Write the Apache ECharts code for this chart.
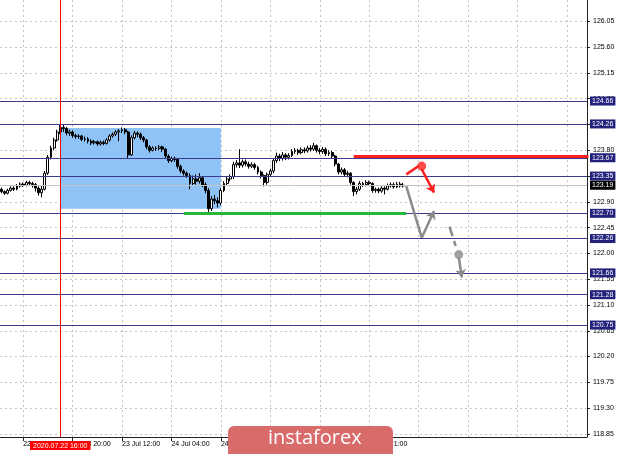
<!DOCTYPE html>
<html><head><meta charset="utf-8">
<script src="https://cdn.jsdelivr.net/npm/echarts@6/dist/echarts.min.js"></script>
<style>html,body{margin:0;padding:0;background:#fff}#c{width:620px;height:454px}</style>
</head><body><div id="c"></div>
<script>
// H1 candles [open, close, low, high], 21 Jul 21:00 onward
const ohlc = [
[123.12,123.08,123.05,123.15],[123.08,123.05,123.02,123.10],[123.05,123.10,123.03,123.13],[123.10,123.14,123.08,123.17],
[123.14,123.12,123.09,123.17],[123.12,123.18,123.10,123.21],[123.18,123.21,123.15,123.24],[123.21,123.19,123.16,123.24],
[123.19,123.24,123.17,123.27],[123.24,123.22,123.19,123.27],[123.22,123.20,123.15,123.25],[123.20,123.14,123.08,123.23],
[123.14,123.06,123.01,123.17],[123.06,123.12,122.98,123.18],[123.12,123.40,123.10,123.44],[123.40,123.68,123.37,123.72],
[123.68,123.84,123.64,123.88],[123.84,123.98,123.80,124.02],[123.98,124.12,123.95,124.16],[124.12,124.20,124.08,124.24],
[124.20,124.18,124.12,124.25],[124.18,124.10,124.06,124.21],[124.10,124.12,124.05,124.16],[124.12,124.06,124.02,124.15],
[124.06,124.04,124.00,124.09],[124.04,124.05,124.00,124.08],[124.05,123.99,123.96,124.07],[123.99,124.00,123.95,124.04],
[124.00,123.96,123.92,124.03],[123.96,123.93,123.89,123.99],[123.93,123.95,123.90,123.98],[123.95,123.91,123.88,123.97],
[123.91,123.94,123.88,123.97],[123.94,123.92,123.89,123.97],[123.92,123.98,123.90,124.01],[123.98,124.05,123.95,124.08],
[124.05,124.08,124.02,124.11],[124.08,124.12,124.05,124.15],[124.12,124.14,123.96,124.17],[124.14,124.16,124.10,124.20],
[124.16,124.12,124.08,124.19],[124.12,123.72,123.66,124.14],[123.72,124.02,123.70,124.06],[124.02,124.10,123.99,124.14],
[124.10,124.08,124.03,124.13],[124.08,124.02,123.98,124.11],[124.02,123.98,123.94,124.05],[123.98,123.86,123.82,124.00],
[123.86,123.80,123.76,123.89],[123.80,123.84,123.78,123.87],[123.84,123.83,123.79,123.87],[123.83,123.86,123.80,123.89],
[123.86,123.82,123.77,123.88],[123.82,123.70,123.66,123.84],[123.70,123.62,123.58,123.73],[123.62,123.66,123.59,123.69],
[123.66,123.64,123.60,123.69],[123.64,123.52,123.48,123.66],[123.52,123.44,123.40,123.55],[123.44,123.40,123.36,123.47],
[123.40,123.36,123.32,123.43],[123.36,123.22,123.12,123.40],[123.22,123.30,123.18,123.36],[123.30,123.26,123.20,123.38],
[123.26,123.32,123.22,123.40],[123.32,123.20,123.16,123.35],[123.20,123.10,123.05,123.24],[123.10,122.78,122.72,123.14],
[122.78,122.95,122.74,123.00],[122.95,122.92,122.86,123.02],[122.92,122.88,122.80,122.98],[122.88,123.10,122.84,123.14],
[123.10,123.22,123.07,123.26],[123.22,123.30,123.19,123.34],[123.30,123.34,123.26,123.38],[123.34,123.55,123.30,123.60],
[123.55,123.58,123.50,123.63],[123.58,123.54,123.49,123.82],[123.54,123.60,123.50,123.64],[123.60,123.56,123.52,123.64],
[123.56,123.52,123.48,123.60],[123.52,123.55,123.49,123.59],[123.55,123.50,123.46,123.58],[123.50,123.42,123.38,123.53],
[123.42,123.36,123.31,123.45],[123.36,123.24,123.17,123.38],[123.24,123.38,123.20,123.41],[123.38,123.44,123.34,123.48],
[123.44,123.62,123.40,123.66],[123.62,123.70,123.58,123.76],[123.70,123.66,123.61,123.74],[123.66,123.72,123.62,123.77],
[123.72,123.68,123.63,123.75],[123.68,123.71,123.64,123.75],[123.71,123.78,123.68,123.82],[123.78,123.80,123.74,123.84],
[123.80,123.76,123.72,123.83],[123.76,123.81,123.73,123.85],[123.81,123.79,123.75,123.85],[123.79,123.84,123.76,123.88],
[123.84,123.82,123.78,123.89],[123.82,123.88,123.79,123.93],[123.88,123.80,123.76,123.90],[123.80,123.78,123.73,123.84],
[123.78,123.82,123.74,123.86],[123.82,123.74,123.70,123.85],[123.74,123.76,123.70,123.80],[123.76,123.70,123.66,123.79],
[123.70,123.56,123.52,123.72],[123.56,123.42,123.38,123.58],[123.42,123.46,123.38,123.50],[123.46,123.38,123.34,123.49],
[123.38,123.40,123.33,123.44],[123.40,123.24,123.20,123.42],[123.24,123.08,123.00,123.26],[123.08,123.12,123.03,123.16],
[123.12,123.22,123.09,123.26],[123.22,123.20,123.16,123.25],[123.20,123.24,123.17,123.28],[123.24,123.22,123.18,123.27],
[123.22,123.10,123.06,123.24],[123.10,123.12,123.06,123.15],[123.12,123.09,123.05,123.15],[123.09,123.14,123.06,123.17],
[123.14,123.12,123.03,123.17],[123.12,123.18,123.10,123.22],[123.18,123.20,123.15,123.24],[123.20,123.16,123.13,123.24],
[123.16,123.21,123.14,123.25],[123.21,123.18,123.15,123.25],[123.18,123.19,123.15,123.23]
];
const slotCount = 190;
const xTickIdx = [7, 23, 39, 55, 71, 87, 103, 119];
const xTickLabels = ['22 Jul 04:00','22 Jul 20:00','23 Jul 12:00','24 Jul 04:00','24 Jul 20:00','27 Jul 13:00','28 Jul 05:00','28 Jul 21:00'];
const xGridIdx = [7, 23, 39, 55, 71, 87, 103, 119, 135, 151, 167, 183];
const yTicks = [118.85,119.30,119.75,120.20,120.65,121.10,121.55,122.00,122.45,122.90,123.35,123.80,124.25,124.70,125.15,125.60,126.05];
const levels = [124.66, 124.26, 123.67, 123.35, 122.70, 122.26, 121.66, 121.28, 120.75];
const currentPrice = 123.19;
const eventIdx = 19;
const eventLabel = '2020.07.22 16:00';
const zoneX = [19, 71];
const zoneY = [124.19, 122.78];
const redLine = [[113.5, 123.69], [189.5, 123.69]];
const greenLine = [[59.1, 122.70], [130.6, 122.70]];
const redUp = [[131.3, 123.38], [134.9, 123.525]];
const redDown = [[136.4, 123.47], [140.0, 123.06]];
const redDot = [136.0, 123.525];
const grayDown = [[130.6, 123.175], [135.6, 122.275]];
const grayUp = [[135.6, 122.275], [139.7, 122.74]];
const grayDash = [[145.1, 122.47], [146.7, 122.13]];
const grayDot = [147.6, 121.98];
const grayArrow = [[148.1, 121.93], [149.4, 121.58]];

const categories = [];
for (let i = 0; i < slotCount; i++) {
  const k = xTickIdx.indexOf(i);
  categories.push(k >= 0 ? xTickLabels[k] : '');
}
const FONT = 'Liberation Sans';
const NAVY_LINE = '#3a3a8e';
const NAVY_BOX = '#22227c';

const gridLines = [];
yTicks.forEach(v => gridLines.push({ yAxis: v }));
xGridIdx.forEach(i => gridLines.push({ xAxis: i }));

const levelLines = levels.map(v => ({
  yAxis: v,
  lineStyle: { color: NAVY_LINE, width: 1, type: 'solid' },
  label: { formatter: v.toFixed(2), backgroundColor: NAVY_BOX, color: '#fff' }
}));
levelLines.push({
  yAxis: currentPrice,
  lineStyle: { color: '#c4c4c4', width: 1, type: 'solid' },
  label: { formatter: currentPrice.toFixed(2), backgroundColor: '#000', color: '#fff' }
});
levelLines.push({
  xAxis: eventIdx,
  lineStyle: { color: '#ff0000', width: 1, type: 'solid' },
  label: { position: 'start', formatter: eventLabel, backgroundColor: '#ff0000', color: '#fff', distance: 4, padding: [1, 3, 0, 3] }
});

const chart = echarts.init(document.getElementById('c'), null, { renderer: 'canvas' });
chart.setOption({
  animation: false,
  backgroundColor: '#ffffff',
  grid: { left: 0, right: 33, top: 0, bottom: 17, containLabel: false },
  xAxis: {
    type: 'category', data: categories, boundaryGap: true,
    axisLine: { show: true, lineStyle: { color: '#222', width: 1 } },
    axisTick: { show: true, alignWithLabel: true, length: 4, interval: (i) => xTickIdx.indexOf(i) >= 0, lineStyle: { color: '#222' } },
    axisLabel: { show: true, interval: (i) => xTickIdx.indexOf(i) >= 0, align: 'left', margin: 4, fontSize: 7, fontFamily: FONT, color: '#000' },
    splitLine: { show: false }
  },
  yAxis: {
    type: 'value', position: 'right', min: 118.796, max: 126.4235, scale: true,
    axisLine: { show: true, lineStyle: { color: '#222', width: 1 } },
    axisTick: { show: true, length: 3, customValues: yTicks, lineStyle: { color: '#222' } },
    axisLabel: { show: true, customValues: yTicks, formatter: (v) => v.toFixed(2), margin: 6, fontSize: 7, fontFamily: FONT, color: '#000' },
    splitLine: { show: false }
  },
  series: [
    { type: 'line', data: [], silent: true, z: 0,
      markLine: { silent: true, symbol: 'none', z: 0, animation: false,
        lineStyle: { color: '#c4c4c4', type: [2, 3], width: 1 },
        label: { show: false }, data: gridLines } },
    { type: 'line', data: [], silent: true, z: 1,
      markArea: { silent: true, z: 1, itemStyle: { color: '#8fc2f6', opacity: 1 },
        data: [[{ xAxis: zoneX[0], yAxis: zoneY[0] }, { xAxis: zoneX[1], yAxis: zoneY[1] }]] } },
    { type: 'candlestick', data: ohlc, z: 3, barWidth: 2.4,
      itemStyle: { color: '#ffffff', color0: '#000000', borderColor: '#000000', borderColor0: '#000000', borderWidth: 1 } },
    { type: 'line', data: [], silent: true, z: 4,
      markLine: { silent: true, symbol: 'none', z: 4, animation: false,
        label: { show: true, position: 'end', distance: 3, fontSize: 7, fontFamily: FONT, padding: [1, 2, 0, 2], lineHeight: 8 },
        data: levelLines } },
    { type: 'lines', coordinateSystem: 'cartesian2d', z: 6, silent: true,
      lineStyle: { color: '#ff1e1e', width: 3, opacity: 1 },
      data: [
        { coords: redLine },
        { coords: greenLine, lineStyle: { color: '#27b83a', width: 3 } }
      ] },
    { type: 'lines', coordinateSystem: 'cartesian2d', z: 7, silent: true,
      symbol: ['none', 'arrow'], symbolSize: 8,
      lineStyle: { color: '#ff1e1e', width: 2.5, opacity: 1 },
      data: [
        { coords: redUp, symbol: ['none', 'none'] },
        { coords: redDown },
        { coords: grayDown, symbol: ['none', 'none'], lineStyle: { color: '#8a8a8a', width: 2.5 } },
        { coords: grayUp, lineStyle: { color: '#8a8a8a', width: 2.5 } },
        { coords: grayDash, symbol: ['none', 'none'], lineStyle: { color: '#8a8a8a', width: 2.5, type: 'dashed' } },
        { coords: grayArrow, lineStyle: { color: '#8a8a8a', width: 2.5 } }
      ] },
    { type: 'scatter', z: 8, silent: true, symbol: 'circle', symbolSize: 9,
      data: [
        { value: redDot, itemStyle: { color: '#ff1e1e' } },
        { value: grayDot, itemStyle: { color: '#8a8a8a' } }
      ] }
  ],
  graphic: [
    { type: 'rect', left: 228, top: 426, z: 100, zlevel: 1, shape: { width: 165, height: 40, r: 6 }, style: { fill: '#d96b6b' } },
    { type: 'text', left: 268, top: 428, z: 101, zlevel: 1, style: { text: 'instaforex', fill: '#ffffff', font: '400 20px "Open Sans", "Liberation Sans", sans-serif' } }
  ]
});
</script>
</body></html>
